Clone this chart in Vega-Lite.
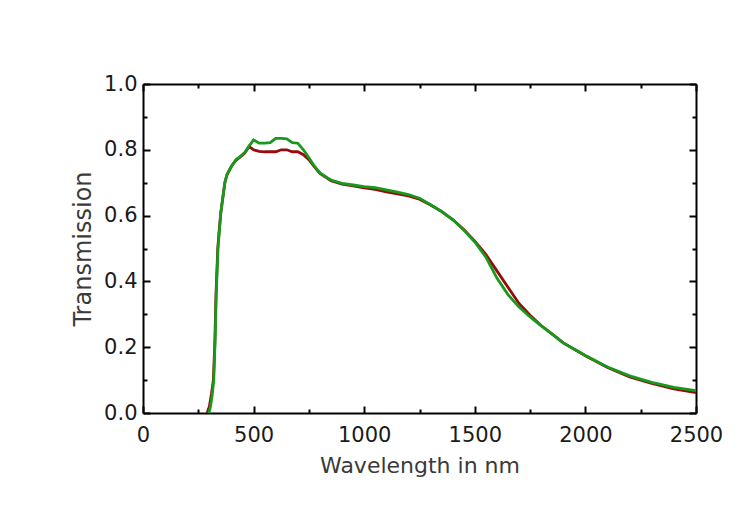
{
  "$schema": "https://vega.github.io/schema/vega-lite/v6.json",
  "width": 553,
  "height": 329,
  "autosize": "none",
  "padding": {"left": 143, "top": 84, "right": 56, "bottom": 112},
  "background": "white",
  "config": {
    "view": {"stroke": null},
    "axis": {
      "domainColor": "#000",
      "domainWidth": 2,
      "tickColor": "#000",
      "tickWidth": 2,
      "grid": false,
      "labelFont": "DejaVu Sans",
      "labelFontSize": 21,
      "labelColor": "#1a1a1a",
      "titleFont": "DejaVu Sans",
      "titleFontSize": 22,
      "titleFontWeight": "normal",
      "titleColor": "#3a3a3a"
    }
  },
  "datasets": {
    "red": [
      {"wl": 290, "T": 0.0}, {"wl": 300, "T": 0.02}, {"wl": 310, "T": 0.06}, {"wl": 318, "T": 0.1},
      {"wl": 325, "T": 0.22}, {"wl": 330, "T": 0.36}, {"wl": 338, "T": 0.5}, {"wl": 345, "T": 0.56},
      {"wl": 352, "T": 0.61}, {"wl": 360, "T": 0.65}, {"wl": 370, "T": 0.7}, {"wl": 380, "T": 0.725},
      {"wl": 400, "T": 0.75}, {"wl": 420, "T": 0.768}, {"wl": 440, "T": 0.778}, {"wl": 460, "T": 0.79},
      {"wl": 480, "T": 0.81}, {"wl": 500, "T": 0.8}, {"wl": 525, "T": 0.795}, {"wl": 550, "T": 0.794},
      {"wl": 575, "T": 0.794}, {"wl": 600, "T": 0.794}, {"wl": 625, "T": 0.8}, {"wl": 650, "T": 0.8},
      {"wl": 675, "T": 0.794}, {"wl": 700, "T": 0.794}, {"wl": 725, "T": 0.785}, {"wl": 750, "T": 0.77},
      {"wl": 775, "T": 0.748}, {"wl": 800, "T": 0.728}, {"wl": 850, "T": 0.706}, {"wl": 900, "T": 0.696},
      {"wl": 950, "T": 0.69}, {"wl": 1000, "T": 0.684}, {"wl": 1050, "T": 0.68}, {"wl": 1100, "T": 0.672},
      {"wl": 1150, "T": 0.666}, {"wl": 1200, "T": 0.66}, {"wl": 1250, "T": 0.65}, {"wl": 1300, "T": 0.632},
      {"wl": 1350, "T": 0.612}, {"wl": 1400, "T": 0.588}, {"wl": 1450, "T": 0.558}, {"wl": 1500, "T": 0.522},
      {"wl": 1550, "T": 0.482}, {"wl": 1600, "T": 0.432}, {"wl": 1650, "T": 0.382}, {"wl": 1700, "T": 0.333},
      {"wl": 1750, "T": 0.297}, {"wl": 1800, "T": 0.266}, {"wl": 1850, "T": 0.24}, {"wl": 1900, "T": 0.213},
      {"wl": 2000, "T": 0.174}, {"wl": 2100, "T": 0.138}, {"wl": 2200, "T": 0.11}, {"wl": 2300, "T": 0.09},
      {"wl": 2400, "T": 0.073}, {"wl": 2500, "T": 0.062}
    ],
    "green": [
      {"wl": 298, "T": 0.0}, {"wl": 305, "T": 0.02}, {"wl": 312, "T": 0.05}, {"wl": 320, "T": 0.1},
      {"wl": 326, "T": 0.22}, {"wl": 331, "T": 0.36}, {"wl": 339, "T": 0.5}, {"wl": 346, "T": 0.56},
      {"wl": 352, "T": 0.61}, {"wl": 360, "T": 0.65}, {"wl": 370, "T": 0.7}, {"wl": 380, "T": 0.725},
      {"wl": 400, "T": 0.75}, {"wl": 420, "T": 0.77}, {"wl": 440, "T": 0.78}, {"wl": 460, "T": 0.792},
      {"wl": 480, "T": 0.812}, {"wl": 500, "T": 0.83}, {"wl": 525, "T": 0.82}, {"wl": 550, "T": 0.82},
      {"wl": 575, "T": 0.822}, {"wl": 600, "T": 0.835}, {"wl": 625, "T": 0.835}, {"wl": 650, "T": 0.833},
      {"wl": 675, "T": 0.822}, {"wl": 700, "T": 0.82}, {"wl": 725, "T": 0.8}, {"wl": 750, "T": 0.776},
      {"wl": 775, "T": 0.75}, {"wl": 800, "T": 0.73}, {"wl": 850, "T": 0.708}, {"wl": 900, "T": 0.698},
      {"wl": 950, "T": 0.693}, {"wl": 1000, "T": 0.688}, {"wl": 1050, "T": 0.685}, {"wl": 1100, "T": 0.678},
      {"wl": 1150, "T": 0.671}, {"wl": 1200, "T": 0.664}, {"wl": 1250, "T": 0.653}, {"wl": 1300, "T": 0.633},
      {"wl": 1350, "T": 0.613}, {"wl": 1400, "T": 0.588}, {"wl": 1450, "T": 0.556}, {"wl": 1500, "T": 0.52},
      {"wl": 1550, "T": 0.474}, {"wl": 1600, "T": 0.41}, {"wl": 1650, "T": 0.36}, {"wl": 1700, "T": 0.322},
      {"wl": 1750, "T": 0.292}, {"wl": 1800, "T": 0.265}, {"wl": 1850, "T": 0.24}, {"wl": 1900, "T": 0.213},
      {"wl": 2000, "T": 0.175}, {"wl": 2100, "T": 0.14}, {"wl": 2200, "T": 0.113}, {"wl": 2300, "T": 0.093},
      {"wl": 2400, "T": 0.078}, {"wl": 2500, "T": 0.068}
    ]
  },
  "layer": [
    {
      "data": {"name": "red"},
      "mark": {"type": "line", "color": "#960c0c", "strokeWidth": 2.8},
      "encoding": {
        "x": {
          "field": "wl", "type": "quantitative",
          "scale": {"domain": [0, 2500], "nice": false},
          "axis": {
            "orient": "bottom",
            "title": "Wavelength in nm",
            "values": [0, 500, 1000, 1500, 2000, 2500],
            "format": "d",
            "tickSize": -7,
            "labelPadding": 18,
            "labelFlush": false,
            "titlePadding": 10
          }
        },
        "y": {
          "field": "T", "type": "quantitative",
          "scale": {"domain": [0, 1], "nice": false},
          "axis": {
            "orient": "left",
            "title": "Transmission",
            "titleFontSize": 24,
            "values": [0, 0.2, 0.4, 0.6, 0.8, 1],
            "format": ".1f",
            "tickSize": -7,
            "labelPadding": 13,
            "labelFlush": false,
            "titlePadding": 8
          }
        }
      }
    },
    {
      "data": {"name": "green"},
      "mark": {"type": "line", "color": "#17991c", "strokeWidth": 2.8},
      "encoding": {
        "x": {
          "field": "wl", "type": "quantitative",
          "axis": {
            "orient": "top", "title": null, "labels": false,
            "values": [0, 500, 1000, 1500, 2000, 2500],
            "tickSize": -7
          }
        },
        "y": {
          "field": "T", "type": "quantitative",
          "axis": {
            "orient": "right", "title": null, "labels": false,
            "values": [0, 0.2, 0.4, 0.6, 0.8, 1],
            "tickSize": -7
          }
        }
      }
    },
    {
      "data": {"name": "red"},
      "mark": {"type": "line", "opacity": 0},
      "encoding": {
        "x": {
          "field": "wl", "type": "quantitative",
          "axis": {
            "orient": "bottom", "title": null, "labels": false, "domain": false,
            "values": [250, 750, 1250, 1750, 2250],
            "tickSize": -4
          }
        },
        "y": {
          "field": "T", "type": "quantitative",
          "axis": {
            "orient": "left", "title": null, "labels": false, "domain": false,
            "values": [0.1, 0.3, 0.5, 0.7, 0.9],
            "tickSize": -4
          }
        }
      }
    },
    {
      "data": {"name": "green"},
      "mark": {"type": "line", "opacity": 0},
      "encoding": {
        "x": {
          "field": "wl", "type": "quantitative",
          "axis": {
            "orient": "top", "title": null, "labels": false, "domain": false,
            "values": [250, 750, 1250, 1750, 2250],
            "tickSize": -4
          }
        },
        "y": {
          "field": "T", "type": "quantitative",
          "axis": {
            "orient": "right", "title": null, "labels": false, "domain": false,
            "values": [0.1, 0.3, 0.5, 0.7, 0.9],
            "tickSize": -4
          }
        }
      }
    }
  ],
  "resolve": {"axis": {"x": "independent", "y": "independent"}}
}
